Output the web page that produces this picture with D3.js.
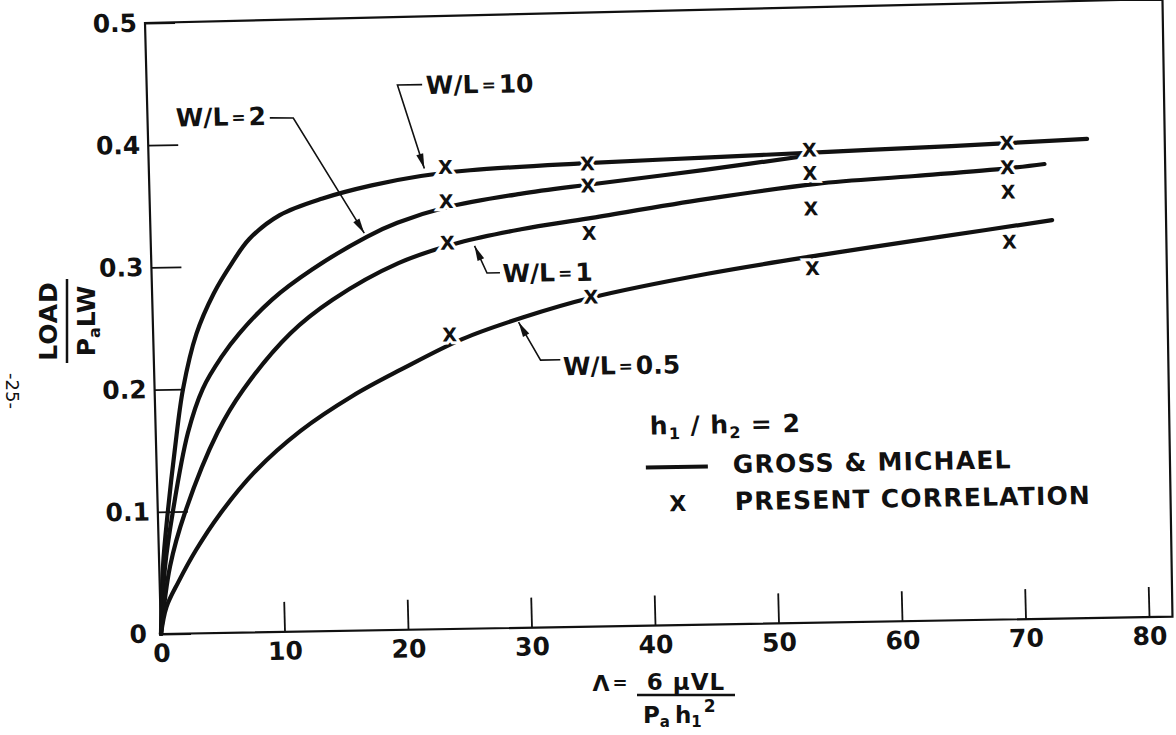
<!DOCTYPE html>
<html>
<head>
<meta charset="utf-8">
<script src="https://cdn.jsdelivr.net/npm/d3@7"></script>
<style>
	body { margin: 0; background: #fff; }
	svg { display: block; font-family: "DejaVu Sans", sans-serif; font-weight: bold; }
</style>
</head>
<body>
<svg id="chart" width="1176" height="735"></svg>
<script>
"use strict";

// Axis ticks
const xTicks = [0, 10, 20, 30, 40, 50, 60, 70, 80];
const yTicks = [0, 0.1, 0.2, 0.3, 0.4, 0.5];

// Gross & Michael curves (lambda, load)
const wl10Lambda = [0, 0.3, 0.8, 1.5, 2.3, 3.5, 5, 6.5, 8, 10.5, 14, 18, 22, 26, 35, 45, 55, 65, 76];
const wl10Load = [0, 0.055, 0.099, 0.15, 0.2, 0.245, 0.278, 0.302, 0.322, 0.341, 0.354, 0.364, 0.371, 0.375, 0.379, 0.382, 0.385, 0.388, 0.392];

const wl2Lambda = [0, 0.47, 1.2, 2.6, 3.9, 5.5, 7, 9.7, 13, 17.5, 20, 24, 30, 36, 45, 54];
const wl2Load = [0, 0.055, 0.099, 0.164, 0.2, 0.226, 0.245, 0.272, 0.296, 0.322, 0.333, 0.345, 0.355, 0.362, 0.372, 0.383];

const wl1Lambda = [0, 0.87, 2.2, 5, 7.2, 11.1, 14.6, 20, 25, 30, 35.5, 45, 54, 62, 69.5, 72.5];
const wl1Load = [0, 0.055, 0.099, 0.164, 0.199, 0.244, 0.271, 0.3, 0.316, 0.326, 0.334, 0.348, 0.359, 0.364, 0.369, 0.372];

const wl05Lambda = [0, 0.5, 1.5, 3, 5, 8, 11.7, 16, 20, 25, 30, 35.5, 45, 54.4, 64, 73];
const wl05Load = [0, 0.022, 0.042, 0.068, 0.097, 0.132, 0.164, 0.192, 0.213, 0.237, 0.254, 0.269, 0.287, 0.301, 0.314, 0.326];

// Present correlation points
const corrLambda = [24, 35.5, 53.5, 69.5];
const corrWl10 = [0.378, 0.379, 0.387, 0.39];
const corrWl2 = [0.35, 0.361, 0.368, 0.37];
const corrWl1 = [0.316, 0.322, 0.339, 0.35];
const corrWl05 = [0.241, 0.27, 0.29, 0.309];

const curves = [
	{lambda: wl10Lambda, load: wl10Load},
	{lambda: wl2Lambda, load: wl2Load},
	{lambda: wl1Lambda, load: wl1Load},
	{lambda: wl05Lambda, load: wl05Load}
];
const corrSeries = [corrWl10, corrWl2, corrWl1, corrWl05];

// Curve labels with their leaders (data units: arrow tip, elbow, dash end, text)
const notes = [
	{value: "10", tip: [22.3, 0.377], elbow: [20.3, 0.4457], dash: [22.3, 0.4457], at: [22.6, 0.438], anchor: "start"},
	{value: "2", tip: [17.3, 0.325], elbow: [11.8, 0.4202], dash: [9.9, 0.4206], at: [9.6, 0.415], anchor: "end"},
	{value: "1", tip: [26.2, 0.313], elbow: [27.15, 0.2907], dash: [28.2, 0.2907], at: [28.4, 0.283], anchor: "start"},
	{value: "0.5", tip: [29.6, 0.25], elbow: [31.3, 0.2187], dash: [32.9, 0.2187], at: [33.1, 0.206], anchor: "start"}
];

const ink = "#111";
const W = 988, H = 611;
const x = d3.scaleLinear().domain([0, 80]).range([0, W]);
const y = d3.scaleLinear().domain([0, 0.5]).range([H, 0]);

const svg = d3.select("#chart");

// the scanned figure is slightly skewed; the plot group follows it
const plot = svg.append("g")
	.attr("transform", "matrix(1,-0.0172,0.0262,1,145,23)");

// frame (top right corner sits a little high in the scan)
plot.append("path")
	.attr("d", `M0,${H}L0,0L${x(82.4)},-6.5L${x(81.9)},${H}Z`)
	.attr("fill", "none").attr("stroke", ink).attr("stroke-width", 2.2);

// axes
const yAxis = plot.append("g")
	.call(d3.axisLeft(y).tickValues(yTicks).tickSizeInner(-30).tickSizeOuter(0).tickPadding(8)
		.tickFormat(d => d === 0 ? "0" : d.toFixed(1)));
const xAxis = plot.append("g")
	.attr("transform", `translate(0,${H})`)
	.call(d3.axisBottom(x).tickValues(xTicks).tickSizeInner(-30).tickSizeOuter(0).tickPadding(10));

[yAxis, xAxis].forEach(g => {
	g.attr("font-family", null).attr("font-size", 25);
	g.select(".domain").remove();
	g.selectAll(".tick line").attr("stroke", ink).attr("stroke-width", 1.8);
	g.selectAll(".tick text").attr("fill", ink);
});
yAxis.selectAll(".tick text").filter(d => d === 0).attr("dx", -6);

// curves
const line = d3.line()
	.x(d => x(d[0]))
	.y(d => y(d[1]))
	.curve(d3.curveCatmullRom.alpha(0.5));

plot.selectAll(".curve")
	.data(curves)
	.enter()
	.append("path")
	.attr("class", "curve")
	.attr("d", c => line(c.lambda.map((l, i) => [l, c.load[i]])))
	.attr("fill", "none")
	.attr("stroke", ink)
	.attr("stroke-width", 4.2)
	.attr("stroke-linecap", "round");

// correlation markers
const points = corrSeries.flatMap(s => s.map((v, i) => [corrLambda[i], v]));
plot.selectAll(".mark")
	.data(points)
	.enter()
	.append("text")
	.attr("class", "mark")
	.attr("x", d => x(d[0]))
	.attr("y", d => y(d[1]))
	.attr("text-anchor", "middle")
	.attr("dominant-baseline", "central")
	.attr("font-size", 19)
	.attr("fill", ink)
	.attr("stroke", "#fff")
	.attr("stroke-width", 6)
	.attr("paint-order", "stroke")
	.text("X");

// labels and leaders
const px = p => [x(p[0]), y(p[1])];
notes.forEach(n => {
	const tip = px(n.tip), elbow = px(n.elbow), dash = px(n.dash);
	plot.append("path")
		.attr("d", d3.line()([dash, elbow, tip]))
		.attr("fill", "none").attr("stroke", ink).attr("stroke-width", 1.6);
	const dx = tip[0] - elbow[0], dy = tip[1] - elbow[1];
	const len = Math.hypot(dx, dy), ux = dx / len, uy = dy / len;
	const bx = tip[0] - ux * 15, by = tip[1] - uy * 15;
	plot.append("path")
		.attr("d", d3.line()([tip, [bx - uy * 3.6, by + ux * 3.6], [bx + uy * 3.6, by - ux * 3.6]]) + "Z")
		.attr("fill", ink);
	const t = plot.append("text")
		.attr("x", x(n.at[0])).attr("y", y(n.at[1]))
		.attr("text-anchor", n.anchor)
		.attr("font-size", 25)
		.attr("fill", ink);
	t.append("tspan").text("W/L");
	t.append("tspan").attr("font-size", 17).attr("dx", 3).attr("dy", -2).text("=");
	t.append("tspan").attr("dx", 3).attr("dy", 2).text(n.value);
});

// legend
const legend = plot.append("g").attr("fill", ink).attr("font-size", 25);
const h = legend.append("text").attr("x", 494).attr("y", 420).attr("letter-spacing", 1);
h.append("tspan").text("h");
h.append("tspan").attr("font-size", 16).attr("dy", 5).text("1");
h.append("tspan").attr("dy", -5).text(" / h");
h.append("tspan").attr("font-size", 16).attr("dy", 5).text("2");
h.append("tspan").attr("dy", -5).text(" = 2");
legend.append("line")
	.attr("x1", 489).attr("y1", 453).attr("x2", 551).attr("y2", 453)
	.attr("stroke", ink).attr("stroke-width", 4);
legend.append("text").attr("x", 576).attr("y", 460).attr("letter-spacing", 1.2).text("GROSS & MICHAEL");
legend.append("text").attr("x", 520).attr("y", 497).attr("text-anchor", "middle").attr("font-size", 22).text("X");
legend.append("text").attr("x", 577).attr("y", 497).attr("letter-spacing", 1.2).text("PRESENT CORRELATION");

// y axis title
const yt = svg.append("g").attr("transform", "translate(67,321) rotate(-90)").attr("fill", ink).attr("font-size", 25);
yt.append("text").attr("x", 0).attr("y", -10).attr("text-anchor", "middle").attr("letter-spacing", 1).text("LOAD");
yt.append("line").attr("x1", -42).attr("x2", 42).attr("y1", 0).attr("y2", 0).attr("stroke", ink).attr("stroke-width", 2.5);
const yd = yt.append("text").attr("x", 0).attr("y", 28).attr("text-anchor", "middle");
yd.append("tspan").text("P");
yd.append("tspan").attr("font-size", 16).attr("dy", 5).text("a");
yd.append("tspan").attr("dy", -5).text("LW");

// x axis title
const xt = svg.append("g").attr("fill", ink);
xt.append("text").attr("x", 601).attr("y", 691).attr("text-anchor", "middle").attr("font-size", 22).text("Λ");
xt.append("text").attr("x", 620).attr("y", 689).attr("text-anchor", "middle").attr("font-size", 18).text("=");
xt.append("text").attr("x", 686).attr("y", 690).attr("text-anchor", "middle").attr("font-size", 23).attr("letter-spacing", 1).text("6 μVL");
xt.append("line").attr("x1", 637).attr("x2", 735).attr("y1", 695).attr("y2", 695).attr("stroke", ink).attr("stroke-width", 2.5);
const xd = xt.append("text").attr("x", 643).attr("y", 723).attr("font-size", 23);
xd.append("tspan").text("P");
xd.append("tspan").attr("font-size", 15).attr("dy", 4).text("a");
xd.append("tspan").attr("dx", 5).attr("dy", -4).text("h");
xd.append("tspan").attr("font-size", 15).attr("dy", 4).text("1");
xd.append("tspan").attr("font-size", 17).attr("dx", 2).attr("dy", -15).text("2");

// page number in the margin
svg.append("text")
	.attr("transform", "translate(12,391) rotate(90)")
	.attr("text-anchor", "middle")
	.attr("dominant-baseline", "central")
	.attr("font-size", 18)
	.attr("font-weight", "normal")
	.attr("fill", ink)
	.text("-25-");
</script>
</body>
</html>
